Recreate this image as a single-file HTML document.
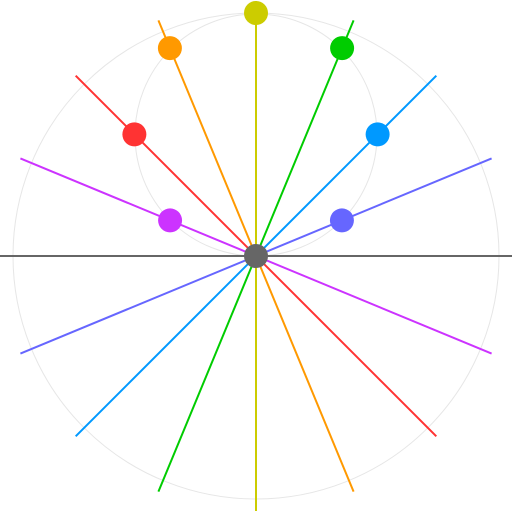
<!DOCTYPE html>
<html><head><meta charset="utf-8"><style>html,body{margin:0;padding:0;background:#fff}svg{display:block}</style></head>
<body>
<svg id="chart" width="512" height="512" viewBox="0 0 512 512" xmlns="http://www.w3.org/2000/svg">
<circle cx="256" cy="256" r="243" fill="none" stroke="#e6e6e6" stroke-width="1"/>
<circle cx="256" cy="135" r="121" fill="none" stroke="#e6e6e6" stroke-width="1"/>
<g id="lines"></g>
<line x1="0" y1="256" x2="512" y2="256" stroke="#666666" stroke-width="2"/>
<g id="dots"></g>
<circle cx="256" cy="256" r="12" fill="#666666"/>
</svg>
<script>
const seriesNames = ['violet','blue','green','yellow','orange','red','purple'];
const angles = [22.5, 45, 67.5, 90, 112.5, 135, 157.5];
const radii = [93, 172, 225, 243, 225, 172, 93];
const colors = ['#6666ff','#0099ff','#00cc00','#cccc00','#ff9900','#ff3333','#cc33ff'];
const cx = 256, cy = 256, lineLen = 255, ns = 'http://www.w3.org/2000/svg';
function px(a, r){ return cx + r*Math.cos(a*Math.PI/180); }
function py(a, r){ return cy - r*Math.sin(a*Math.PI/180); }
const lg = document.getElementById('lines'), dg = document.getElementById('dots');
angles.forEach((a,i)=>{
  const l = document.createElementNS(ns,'line');
  l.setAttribute('x1', px(a,lineLen)); l.setAttribute('y1', py(a,lineLen));
  l.setAttribute('x2', px(a+180,lineLen)); l.setAttribute('y2', py(a+180,lineLen));
  l.setAttribute('stroke', colors[i]); l.setAttribute('stroke-width', 2);
  
  
  lg.appendChild(l);
  const c = document.createElementNS(ns,'circle');
  c.setAttribute('cx', px(a,radii[i])); c.setAttribute('cy', py(a,radii[i]));
  c.setAttribute('r', 12); c.setAttribute('fill', colors[i]);
  
  
  dg.appendChild(c);
});
</script>
</body></html>
